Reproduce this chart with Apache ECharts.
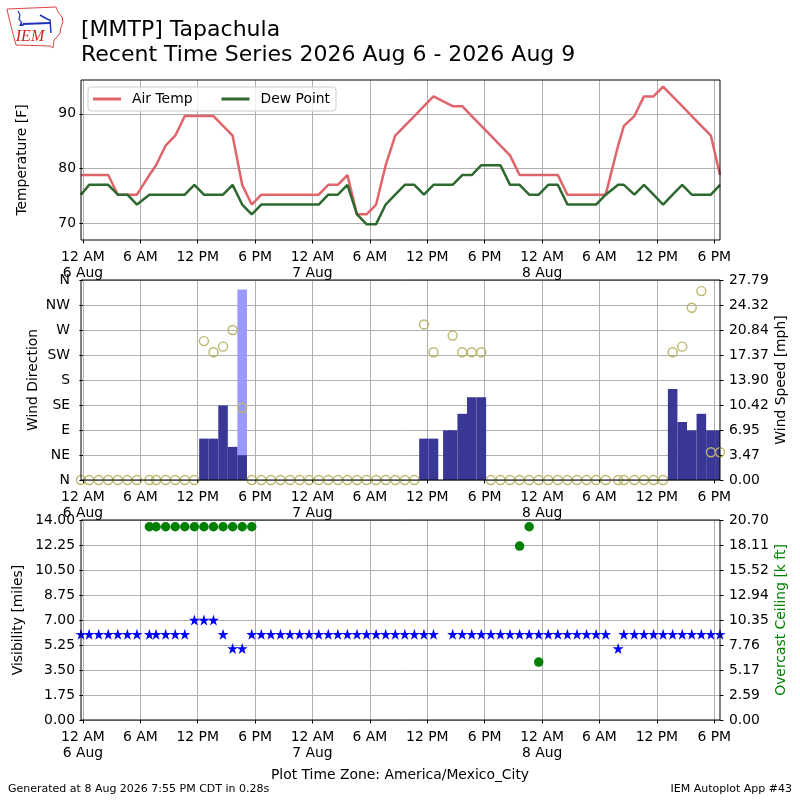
<!DOCTYPE html>
<html>
<head>
<meta charset="utf-8">
<title>[MMTP] Tapachula</title>
<script src="https://cdn.jsdelivr.net/npm/echarts@6.0.0/dist/echarts.min.js"></script>
<style>
  html, body { margin: 0; padding: 0; background: #fff; }
  #chart { width: 800px; height: 800px; }
</style>
</head>
<body>
<div id="chart"></div>
<script>
// observation times, hours after 6 Aug 00:00 local (America/Mexico_City)
const obsHours = [-0.2, 0.65, 1.65, 2.65, 3.65, 4.65, 5.65, 6.95, 7.65, 8.65,
  9.65, 10.65, 11.65, 12.65, 13.65, 14.65, 15.65, 16.65, 17.65, 18.65,
  19.65, 20.65, 21.65, 22.65, 23.65, 24.65, 25.65, 26.65, 27.65, 28.65,
  29.65, 30.65, 31.65, 32.65, 33.65, 34.65, 35.65, 36.65, 38.15, 38.65,
  39.65, 40.65, 41.65, 42.65, 43.65, 44.65, 45.65, 46.65, 47.65, 48.65,
  49.65, 50.65, 51.65, 52.65, 53.65, 54.65, 55.95, 56.55, 57.65, 58.65,
  59.65, 60.65, 61.65, 62.65, 63.65, 64.65, 65.65, 66.6];

const airTemp = [78.8, 78.8, 78.8, 78.8, 75.2, 75.2, 75.2, 78.8, 80.6, 84.2,
  86, 89.6, 89.6, 89.6, 89.6, 87.8, 86, 77, 73.4, 75.2,
  75.2, 75.2, 75.2, 75.2, 75.2, 75.2, 77, 77, 78.8, 71.6,
  71.6, 73.4, 80.6, 86, 87.8, 89.6, 91.4, 93.2, null, 91.4,
  91.4, 89.6, 87.8, 86, 84.2, 82.4, 78.8, 78.8, 78.8, 78.8,
  78.8, 75.2, 75.2, 75.2, 75.2, 75.2, 84.2, 87.8, 89.6, 93.2,
  93.2, 95, 93.2, 91.4, 89.6, 87.8, 86, 78.8];

const dewPoint = [75.2, 77, 77, 77, 75.2, 75.2, 73.4, 75.2, 75.2, 75.2,
  75.2, 75.2, 77, 75.2, 75.2, 75.2, 77, 73.4, 71.6, 73.4,
  73.4, 73.4, 73.4, 73.4, 73.4, 73.4, 75.2, 75.2, 77, 71.6,
  69.8, 69.8, 73.4, 75.2, 77, 77, 75.2, 77, null, 77,
  78.8, 78.8, 80.6, 80.6, 80.6, 77, 77, 75.2, 75.2, 77,
  77, 73.4, 73.4, 73.4, 73.4, 75.2, 77, 77, 75.2, 77,
  75.2, 73.4, 75.2, 77, 75.2, 75.2, 75.2, 77];

const windDir = [0, 0, 0, 0, 0, 0, 0, 0, 0, 0,
  0, 0, 0, 250, 230, 240, 270, 130, 0, 0,
  0, 0, 0, 0, 0, 0, 0, 0, 0, 0,
  0, 0, 0, 0, 0, 0, 280, 230, null, 260,
  230, 230, 230, 0, 0, 0, 0, 0, 0, 0,
  0, 0, 0, 0, 0, 0, 0, 0, 0, 0,
  0, 0, 230, 240, 310, 340, 50, 50];

const windSpeed = [0, 0, 0, 0, 0, 0, 0, 0, 0, 0,
  0, 0, 0, 5.75, 5.75, 10.36, 4.6, 3.45, 0, 0,
  0, 0, 0, 0, 0, 0, 0, 0, 0, 0,
  0, 0, 0, 0, 0, 0, 5.75, 5.75, 6.9, 6.9,
  9.2, 11.5, 11.5, 0, 0, 0, 0, 0, 0, 0,
  0, 0, 0, 0, 0, 0, 0, 0, 0, 0,
  0, 0, 12.66, 8.06, 6.9, 9.2, 6.9, 6.9];

const windGust = obsHours.map(() => null);
windGust[17] = 26.47;

const visibility = [6, 6, 6, 6, 6, 6, 6, 6, 6, 6,
  6, 6, 7, 7, 7, 6, 5, 5, 6, 6,
  6, 6, 6, 6, 6, 6, 6, 6, 6, 6,
  6, 6, 6, 6, 6, 6, 6, 6, null, 6,
  6, 6, 6, 6, 6, 6, 6, 6, 6, 6,
  6, 6, 6, 6, 6, 6, 5, 6, 6, 6,
  6, 6, 6, 6, 6, 6, 6, 6];

const ceiling = obsHours.map(() => null);
[7, 8, 9, 10, 11, 12, 13, 14, 15, 16, 17, 18].forEach(i => { ceiling[i] = 20; });
ceiling[46] = 18;
ceiling[47] = 20;
ceiling[48] = 6;

const xTickHours = [0, 6, 12, 18, 24, 30, 36, 42, 48, 54, 60, 66];
const xTickLabels = ['12 AM\n6 Aug', '6 AM', '12 PM', '6 PM', '12 AM\n7 Aug', '6 AM',
  '12 PM', '6 PM', '12 AM\n8 Aug', '6 AM', '12 PM', '6 PM'];
const tempTicks = [70, 80, 90];
const dirTickLabels = ['N', 'NE', 'E', 'SE', 'S', 'SW', 'W', 'NW', 'N'];
const speedTickLabels = ['0.00', '3.47', '6.95', '10.42', '13.90', '17.37', '20.84', '24.32', '27.79'];
const visTickLabels = ['0.00', '1.75', '3.50', '5.25', '7.00', '8.75', '10.50', '12.25', '14.00'];
const ceilTickLabels = ['0.00', '2.59', '5.17', '7.76', '10.35', '12.94', '15.52', '18.11', '20.70'];

const FONT = 'DejaVu Sans';
const FS = 13.9;
const SPEED_MAX = 27.79, VIS_MAX = 14, CEIL_MAX = 20.7;

function linePairs(vals) {
  return obsHours.map((t, i) => [t, vals[i] == null ? '-' : vals[i]]);
}
function present(vals) {
  return obsHours.map((t, i) => [t, vals[i]]).filter(p => p[1] != null);
}

function timeAxis(gi) {
  return {
    type: 'value', gridIndex: gi, min: -0.2, max: 66.6,
    axisLine: { show: false, onZero: false },
    axisTick: { show: true, length: 3.5, customValues: xTickHours, lineStyle: { color: '#000' } },
    axisLabel: {
      customValues: xTickHours, color: '#000', fontSize: FS, fontFamily: FONT,
      lineHeight: 16, margin: 9,
      formatter: v => xTickLabels[xTickHours.indexOf(Math.round(v))]
    },
    splitLine: { show: true, lineStyle: { color: '#b0b0b0', width: 1 } }
  };
}

function valueAxis(gi, pos, min, max, labels, margin, grid) {
  const step = (max - min) / (labels.length - 1);
  return {
    type: 'value', gridIndex: gi, position: pos, min: min, max: max, interval: step,
    axisLine: { show: false },
    axisTick: { show: true, length: 3.5, lineStyle: { color: '#000' } },
    axisLabel: {
      color: '#000', fontSize: FS, fontFamily: FONT, margin: margin,
      formatter: v => labels[Math.round((v - min) / step)]
    },
    splitLine: { show: grid, lineStyle: { color: '#b0b0b0', width: 1 } }
  };
}

function barSeries(vals, color) {
  return {
    type: 'custom', xAxisIndex: 1, yAxisIndex: 2, clip: true,
    data: present(vals).filter(p => p[1] > 0),
    encode: { x: 0, y: 1 },
    renderItem: function (params, api) {
      const t = api.value(0), v = api.value(1);
      const a = api.coord([t - 0.5, v]);
      const b = api.coord([t + 0.5, 0]);
      return {
        type: 'rect',
        shape: { x: a[0], y: a[1], width: b[0] - a[0], height: b[1] - a[1] },
        style: { fill: color }
      };
    }
  };
}

function label(text, x, y, size, opts) {
  opts = opts || {};
  return {
    type: 'text', x: x, y: y, rotation: opts.rot || 0, z: 100,
    style: {
      text: text, fill: opts.color || '#000', fontSize: size, fontFamily: opts.family || FONT,
      fontStyle: opts.style || 'normal',
      align: opts.align || 'center', textAlign: opts.align || 'center',
      verticalAlign: 'middle', textVerticalAlign: 'middle'
    }
  };
}

function frame(x, y, w, h) {
  return {
    type: 'rect', z: 100, shape: { x: x, y: y, width: w, height: h },
    style: { fill: 'none', stroke: '#000', lineWidth: 1 }
  };
}

const star = 'path://M0,-1 L0.2245,-0.309 L0.951,-0.309 L0.363,0.118 L0.588,0.809 L0,0.382 L-0.588,0.809 L-0.363,0.118 L-0.951,-0.309 L-0.2245,-0.309 Z';

const chart = echarts.init(document.getElementById('chart'), null, { renderer: 'canvas' });

const option = {
  animation: false,
  backgroundColor: '#fff',
  textStyle: { fontFamily: FONT },
  grid: [
    { left: 81, top: 80, width: 639, height: 160, outerBoundsMode: 'none' },
    { left: 81, top: 280, width: 639, height: 200, outerBoundsMode: 'none' },
    { left: 81, top: 520, width: 639, height: 200, outerBoundsMode: 'none' }
  ],
  legend: {
    data: ['Air Temp', 'Dew Point'], left: 88, top: 87, orient: 'horizontal',
    icon: 'rect', itemWidth: 28, itemHeight: 3, itemGap: 29,
    padding: [5, 6, 5, 5],
    backgroundColor: 'rgba(255,255,255,0.8)', borderColor: '#cccccc', borderWidth: 1, borderRadius: 3,
    textStyle: { fontSize: FS, fontFamily: FONT, color: '#000', padding: [0, 0, 0, 6] }
  },
  xAxis: [timeAxis(0), timeAxis(1), timeAxis(2)],
  yAxis: [
    {
      type: 'value', gridIndex: 0, min: 66.9, max: 96.2,
      axisLine: { show: false },
      axisTick: { show: true, length: 3.5, customValues: tempTicks, lineStyle: { color: '#000' } },
      axisLabel: { customValues: tempTicks, color: '#000', fontSize: FS, fontFamily: FONT, margin: 5 },
      splitLine: { show: true, lineStyle: { color: '#b0b0b0', width: 1 } }
    },
    valueAxis(1, 'left', 0, 360, dirTickLabels, 11, true),
    valueAxis(1, 'right', 0, SPEED_MAX, speedTickLabels, 9, false),
    valueAxis(2, 'left', 0, VIS_MAX, visTickLabels, 6, true),
    valueAxis(2, 'right', 0, CEIL_MAX, ceilTickLabels, 9, false)
  ],
  series: [
    {
      name: 'Air Temp', type: 'line', xAxisIndex: 0, yAxisIndex: 0,
      data: linePairs(airTemp), connectNulls: true, symbol: 'none',
      lineStyle: { color: '#e0646b', width: 2.5 }, itemStyle: { color: '#e0646b' }
    },
    {
      name: 'Dew Point', type: 'line', xAxisIndex: 0, yAxisIndex: 0,
      data: linePairs(dewPoint), connectNulls: true, symbol: 'none',
      lineStyle: { color: '#2e6930', width: 2.5 }, itemStyle: { color: '#2e6930' }
    },
    barSeries(windGust, '#9999ff'),
    barSeries(windSpeed, '#3a3897'),
    {
      name: 'Wind Direction', type: 'scatter', xAxisIndex: 1, yAxisIndex: 1,
      data: present(windDir), symbol: 'circle', symbolSize: 9,
      itemStyle: { color: 'rgba(255,255,255,0)', borderColor: '#bdb76b', borderWidth: 1.4, opacity: 1 }
    },
    {
      name: 'Visibility', type: 'scatter', xAxisIndex: 2, yAxisIndex: 3,
      data: present(visibility), symbol: star, symbolSize: 11,
      itemStyle: { color: '#0000ff', opacity: 1 }
    },
    {
      name: 'Ceiling', type: 'scatter', xAxisIndex: 2, yAxisIndex: 4,
      data: present(ceiling), symbol: 'circle', symbolSize: 9.5,
      itemStyle: { color: '#008000', opacity: 1 }
    }
  ],
  graphic: [
    // IEM logo
    {
      type: 'polyline', z: 100,
      shape: { points: [[7, 9], [56, 7], [58, 12], [62, 17], [63, 22], [61, 27], [60, 33], [57, 37],
        [54, 40], [53, 48], [50, 46], [16, 45], [14, 38], [12, 30], [10, 22], [8, 14], [7, 9]] },
      style: { stroke: '#dd4444', lineWidth: 1, fill: 'none' }
    },
    {
      type: 'polyline', z: 100,
      shape: { points: [[18, 11], [20, 15], [19, 19], [22, 23]] },
      style: { stroke: '#2233bb', lineWidth: 1.2, fill: 'none' }
    },
    {
      type: 'polyline', z: 100,
      shape: { points: [[23, 24], [50, 23]] },
      style: { stroke: '#2233bb', lineWidth: 2, fill: 'none' }
    },
    {
      type: 'polyline', z: 100,
      shape: { points: [[40, 15], [47, 19], [50, 20], [51, 33]] },
      style: { stroke: '#2233bb', lineWidth: 1.5, fill: 'none' }
    },
    {
      type: 'polygon', z: 100,
      shape: { points: [[19, 26], [21, 22], [24, 26]] },
      style: { fill: '#2233bb' }
    },
    label('IEM', 30, 37, 16, { color: '#cc2222', family: 'Liberation Serif', style: 'italic' }),
    // titles
    label('[MMTP] Tapachula', 81, 30, 22, { align: 'left' }),
    label('Recent Time Series 2026 Aug 6 - 2026 Aug 9', 81, 55, 22, { align: 'left' }),
    // axis titles
    label('Temperature [F]', 22.5, 160, FS, { rot: Math.PI / 2 }),
    label('Wind Direction', 33, 380, FS, { rot: Math.PI / 2 }),
    label('Wind Speed [mph]', 781, 380, FS, { rot: Math.PI / 2 }),
    label('Visibility [miles]', 18, 620, FS, { rot: Math.PI / 2 }),
    label('Overcast Ceiling [k ft]', 781, 620, FS, { rot: Math.PI / 2, color: '#008000' }),
    label('Plot Time Zone: America/Mexico_City', 400, 775, FS),
    label('Generated at 8 Aug 2026 7:55 PM CDT in 0.28s', 8, 789, 11, { align: 'left' }),
    label('IEM Autoplot App #43', 792, 789, 11, { align: 'right' }),
    // panel frames
    frame(81, 80, 639, 160),
    frame(81, 280, 639, 200),
    frame(81, 520, 639, 200)
  ]
};

chart.setOption(option);
window.addEventListener('resize', chart.resize);
</script>
</body>
</html>
